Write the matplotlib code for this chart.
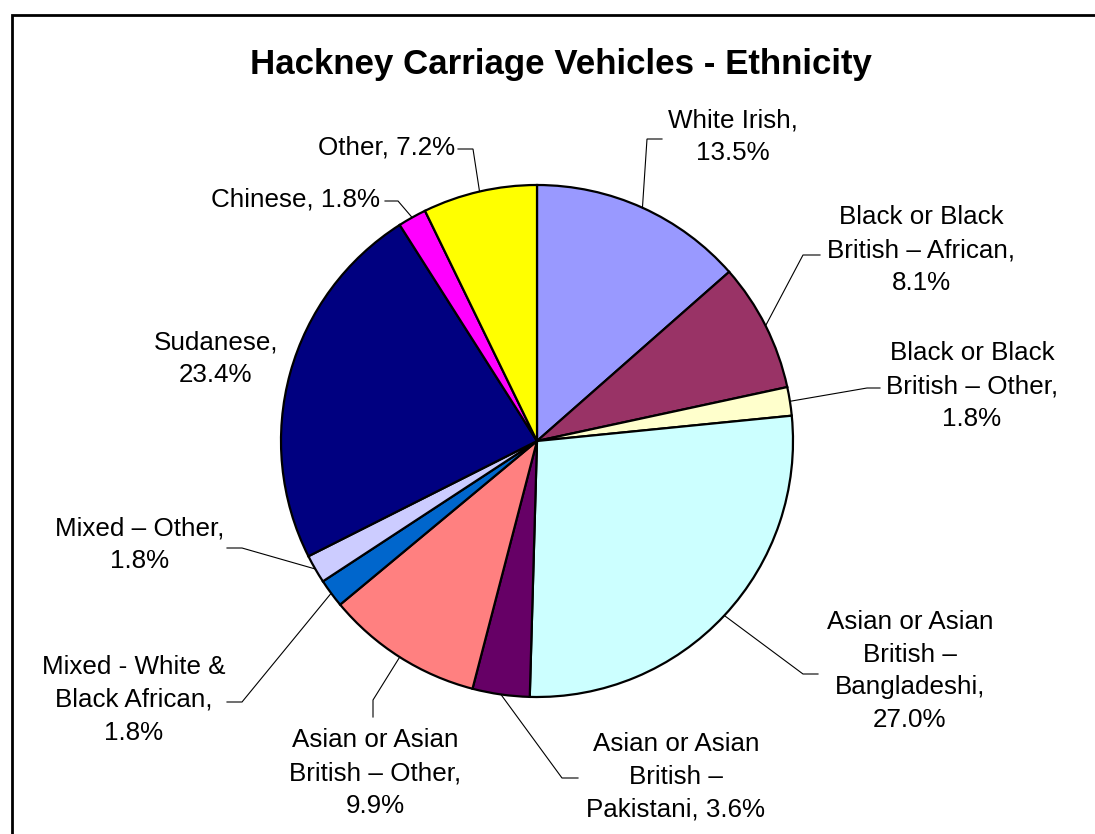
import numpy as np
import matplotlib.pyplot as plt
from matplotlib.patches import Rectangle

plt.rcParams['font.family'] = ['Liberation Sans', 'DejaVu Sans']

# data
labels = ['White Irish', 'Black or Black British – African', 'Black or Black British – Other',
          'Asian or Asian British – Bangladeshi', 'Asian or Asian British – Pakistani',
          'Asian or Asian British – Other', 'Mixed - White & Black African', 'Mixed – Other',
          'Sudanese', 'Chinese', 'Other']
shares = [13.5, 8.1, 1.8, 27.0, 3.6, 9.9, 1.8, 1.8, 23.4, 1.8, 7.2]
colors = ['#9999FF', '#993366', '#FFFFCC', '#CCFFFF', '#660066', '#FF8080',
          '#0066CC', '#CCCCFF', '#000080', '#FF00FF', '#FFFF00']
label_texts = ['White Irish,\n13.5%', 'Black or Black\nBritish – African,\n8.1%',
               'Black or Black\nBritish – Other,\n1.8%', 'Asian or Asian\nBritish –\nBangladeshi,\n27.0%',
               'Asian or Asian\nBritish –\nPakistani, 3.6%', 'Asian or Asian\nBritish – Other,\n9.9%',
               'Mixed - White &\nBlack African,\n1.8%', 'Mixed – Other,\n1.8%',
               'Sudanese,\n23.4%', 'Chinese, 1.8%', 'Other, 7.2%']

# layout in pixels (y measured from top)
W, H = 1095, 834
cx, cy, rad = 537, 441, 256
text_pos = [(733, 137, 'center'), (921, 250, 'center'), (972, 386, 'center'),
            (910, 671, 'center'), (676, 777, 'center'), (375, 773, 'center'),
            (134, 700, 'center'), (140, 545, 'center'), (216, 359, 'center'),
            (380, 199, 'right'), (455, 147, 'right')]
# leader: elbow point, end point (None = no leader)
leaders = [((647, 139), (662, 139)), ((803, 255), (820, 255)), ((867, 388), (880, 388)),
           ((803, 674), (818, 674)), ((562, 778), (578, 778)), ((373, 700), (373, 717)),
           ((242, 702), (227, 702)), ((242, 548), (227, 548)), None,
           ((398, 201), (385, 201)), ((473, 149), (458, 149))]

fig = plt.figure(figsize=(W / 100, H / 100), dpi=100)
ax = fig.add_axes([0, 0, 1, 1])

wedges, _ = ax.pie(shares, colors=colors, startangle=90, counterclock=False,
                   center=(cx, H - cy), radius=rad,
                   wedgeprops=dict(edgecolor='black', linewidth=1.6))

for w, txt, (tx, ty, ha), ld in zip(wedges, label_texts, text_pos, leaders):
    if ld is not None:
        mid = np.deg2rad((w.theta1 + w.theta2) / 2)
        sx = cx + rad * np.cos(mid)
        sy = (H - cy) + rad * np.sin(mid)
        (ex, ey), (fx, fy) = ld
        ax.plot([sx, ex, fx], [sy, H - ey, H - fy], color='black', lw=0.8,
                solid_joinstyle='miter')
    ax.text(tx, H - ty, txt, ha=ha, va='center', multialignment='center',
            fontsize=18.7, linespacing=1.47)

ax.text(561, H - 64, 'Hackney Carriage Vehicles - Ethnicity', ha='center', va='center',
        fontsize=25.1, fontweight='bold')

ax.add_patch(Rectangle((11.5, -20), W + 20, H - 15 + 20, fill=False,
                       edgecolor='black', linewidth=2))

ax.set_xlim(0, W)
ax.set_ylim(0, H)
ax.set_aspect('equal')
ax.axis('off')

fig.savefig('out.png', dpi=100)
